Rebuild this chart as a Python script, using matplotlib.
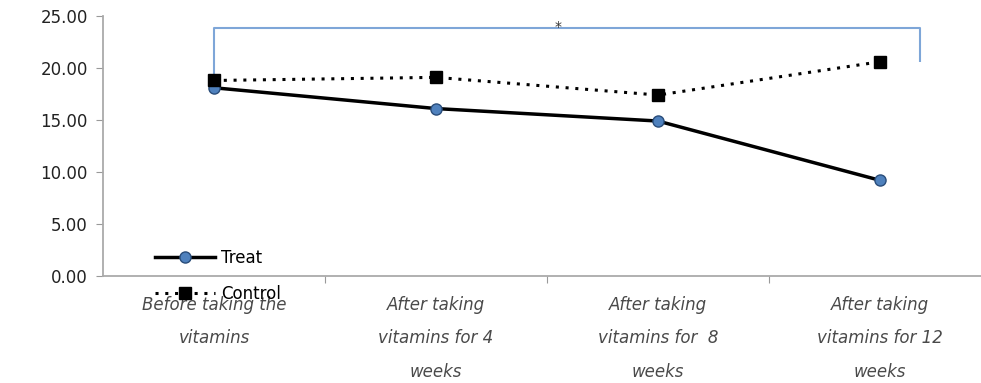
import matplotlib
matplotlib.use("Agg")
import matplotlib.pyplot as plt
from matplotlib.lines import Line2D

# data
categories = ["Before taking the\nvitamins",
              "After taking\nvitamins for 4\nweeks",
              "After taking\nvitamins for  8\nweeks",
              "After taking\nvitamins for 12\nweeks"]
treat = [18.1, 16.1, 14.9, 9.2]
control = [18.8, 19.1, 17.4, 20.6]
yticks = [0, 5, 10, 15, 20, 25]

W, H = 981, 383
fig = plt.figure(figsize=(W / 100, H / 100), dpi=100)
ax = fig.add_axes([103 / W, (H - 276) / H, 888 / W, 260 / H])

x = list(range(len(categories)))
ax.plot(x, treat, color="black", lw=2.5, marker="o", ms=8,
        mfc="#4f81bd", mec="#2a4d7a", mew=1, zorder=3)
ax.plot(x, control, color="black", lw=2.2, ls=(0, (1, 2.2)), marker="s", ms=8,
        mfc="black", mec="black", zorder=3)

# significance bracket
ax.plot([0, 0, 3.18, 3.18], [18.9, 23.85, 23.85, 20.6], color="#7ea6d8",
        lw=1.5, solid_capstyle="butt", zorder=2)
ax.text(1.55, 23.9, "*", ha="center", va="center", fontsize=10, color="#333333")

ax.set_xlim(-0.5, 3.5)
ax.set_ylim(0, 25)
ax.set_yticks(yticks)
ax.set_yticklabels([f"{v:.2f}" for v in yticks], fontsize=12, color="#222222")
ax.set_xticks([0.5, 1.5, 2.5])
ax.set_xticklabels([])
ax.tick_params(axis="y", length=5, color="#999999", pad=6)
ax.tick_params(axis="x", length=5, color="#999999")
for s in ["top", "right"]:
    ax.spines[s].set_visible(False)
for s in ["left", "bottom"]:
    ax.spines[s].set_color("#aaaaaa")
    ax.spines[s].set_linewidth(1.3)

# category labels
for i, lab in enumerate(categories):
    ax.text(i, -1.9, lab, ha="center", va="top", fontsize=12, style="italic",
            color="#4a4a4a", linespacing=2.1, clip_on=False)

# legend
h1 = Line2D([], [], color="black", lw=2.5, marker="o", ms=8,
            mfc="#4f81bd", mec="#2a4d7a")
h2 = Line2D([], [], color="black", lw=2.2, ls=(0, (1, 2.2)), marker="s", ms=8,
            mfc="black", mec="black")
fig.legend([h1, h2], ["Treat", "Control"], loc="upper left",
           bbox_to_anchor=(140 / W, 1 - 234 / H), frameon=False, fontsize=12,
           handlelength=3.6, handletextpad=0.35, labelspacing=1.05)

fig.savefig("out.png", dpi=100)
